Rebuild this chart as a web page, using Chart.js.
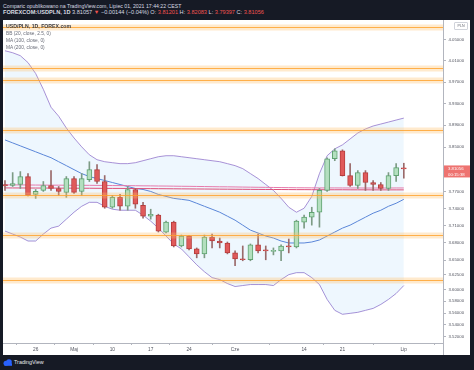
<!DOCTYPE html>
<html>
<head>
<meta charset="utf-8">
<script src="https://cdn.jsdelivr.net/npm/chart.js@4/dist/chart.umd.min.js"></script>
<style>
html,body{margin:0;padding:0;width:474px;height:370px;overflow:hidden;background:#161a25;font-family:"Liberation Sans",Arial,sans-serif}
.hdr{position:absolute;left:3px;color:#d8dbe2;font-size:5.2px;white-space:nowrap;line-height:6px}
.hdr .r{color:#ef5350}
#panel{position:absolute;left:3px;top:20px;width:467px;height:335px;background:#fff}
#c{position:absolute;left:0;top:0}
#legend{position:absolute;left:3px;top:3px;font-size:4.8px;line-height:7.1px;color:#6a6d78;white-space:nowrap}
#legend b{color:#3b3d45;font-size:5.2px}
#pln{position:absolute;left:451px;top:2px;width:12px;height:6px;border:1px solid #d0d3da;border-radius:1px;font-size:3.6px;line-height:6px;text-align:center;color:#60636d}
#tv{position:absolute;left:3px;top:358px;color:#e6e8ee;font-size:5.4px;line-height:8px;white-space:nowrap}
#tv svg{vertical-align:middle;margin-right:1px}
</style>
</head>
<body>
<div class="hdr" style="top:2.5px">Comparic opublikowano na TradingView.com, Lipiec 01, 2021 17:44:22 CEST</div>
<div class="hdr" style="top:9px;font-size:5.6px"><b>FOREXCOM:USDPLN, 1D</b> 3.81057 <span class="r">▼</span> −0.00144 (−0.04%) O: <span class="r">3.81201</span> H: <span class="r">3.82083</span> L: <span class="r">3.79397</span> C: <span class="r">3.81056</span></div>
<div id="panel">
  <canvas id="c" width="467" height="335"></canvas>
  <div id="legend"><b>USD/PLN, 1D, FOREX.com</b><br>BB (20, close, 2.5, 0)<br>MA (100, close, 0)<br>MA (200, close, 0)</div>
  <div id="pln">PLN</div>
</div>
<div id="tv"><svg width="10" height="7" viewBox="0 0 10 7"><circle cx="3" cy="4.3" r="2.5" fill="#2962ff"/><circle cx="6" cy="3" r="2.8" fill="#2962ff"/><rect x="1.5" y="4.3" width="7.5" height="2.5" fill="#2962ff"/></svg>TradingView</div>
<script>
const dates = ["04-20","04-21","04-22","04-23","04-26","04-27","04-28","04-29","04-30",
  "05-03","05-04","05-05","05-06","05-07","05-10","05-11","05-12","05-13","05-14","05-17","05-18","05-19","05-20","05-21","05-24","05-25","05-26","05-27","05-28","05-31",
  "06-01","06-02","06-03","06-04","06-07","06-08","06-09","06-10","06-11","06-14","06-15","06-16","06-17","06-18","06-21","06-22","06-23","06-24","06-25","06-28","06-29","06-30",
  "07-01"];

const opens  = [3.7827,3.7809,3.7827,3.7969,3.7650,3.7721,3.7809,3.7756,3.7686,3.7933,3.7703,3.7915,3.8093,3.7880,3.7423,3.7598,3.7440,3.7738,3.7458,3.7265,3.7283,3.6987,3.7160,3.6745,3.6918,3.6694,3.6608,3.6900,3.6831,3.6797,3.6625,3.6523,3.6506,3.6763,3.6677,3.6651,3.6660,3.6745,3.6728,3.7160,3.7248,3.7335,3.7721,3.8290,3.8433,3.7987,3.7809,3.8040,3.7862,3.7827,3.7756,3.7987,3.81201];
const highs  = [3.7898,3.8040,3.8058,3.8022,3.7738,3.7880,3.8076,3.7791,3.7969,3.7969,3.8022,3.8236,3.8183,3.7987,3.7633,3.7650,3.7791,3.7756,3.7510,3.7388,3.7300,3.7178,3.7178,3.6935,3.6926,3.6711,3.6935,3.6952,3.6883,3.6814,3.6660,3.6745,3.6780,3.6952,3.6745,3.6711,3.6763,3.6866,3.7195,3.7283,3.7423,3.7756,3.8308,3.8469,3.8451,3.8201,3.8076,3.8076,3.7898,3.7862,3.8040,3.8201,3.82083];
const lows   = [3.7721,3.7791,3.7756,3.7624,3.7580,3.7703,3.7721,3.7633,3.7598,3.7668,3.7633,3.7880,3.7844,3.7405,3.7405,3.7370,3.7370,3.7405,3.7230,3.7213,3.6987,3.6970,3.6728,3.6728,3.6677,3.6540,3.6540,3.6711,3.6711,3.6608,3.6403,3.6489,3.6489,3.6625,3.6506,3.6591,3.6489,3.6625,3.6711,3.7056,3.7108,3.7073,3.7703,3.8254,3.7978,3.7791,3.7756,3.7721,3.7721,3.7721,3.7721,3.7880,3.79397];
const closes = [3.7801,3.7844,3.7969,3.7633,3.7703,3.7809,3.7756,3.7703,3.7933,3.7686,3.7933,3.8093,3.7880,3.7423,3.7598,3.7440,3.7738,3.7475,3.7265,3.7300,3.7004,3.7160,3.6745,3.6918,3.6694,3.6608,3.6900,3.6831,3.6797,3.6625,3.6523,3.6506,3.6763,3.6660,3.6660,3.6668,3.6745,3.6728,3.7178,3.7248,3.7335,3.7721,3.8290,3.8433,3.7987,3.7809,3.8040,3.7862,3.7827,3.7756,3.7987,3.8129,3.81056];

const bbUpper = [4.0292,4.0254,4.0198,4.0067,3.9861,3.9564,3.9232,3.9066,3.8849,3.8667,3.8505,3.8361,3.8272,3.8236,3.8218,3.8201,3.8201,3.8218,3.8254,3.8290,3.8326,3.8344,3.8344,3.8326,3.8308,3.8290,3.8272,3.8254,3.8236,3.8201,3.8165,3.8111,3.8022,3.7933,3.7827,3.7721,3.7580,3.7423,3.7335,3.7405,3.7615,3.8022,3.8344,3.8469,3.8541,3.8649,3.8758,3.8831,3.8886,3.8922,3.8958,3.8995,3.9031];
const bbBasis = [3.8631,3.8577,3.8523,3.8469,3.8415,3.8361,3.8308,3.8236,3.8165,3.8093,3.8022,3.7969,3.7933,3.7898,3.7862,3.7827,3.7791,3.7756,3.7738,3.7703,3.7650,3.7615,3.7580,3.7563,3.7545,3.7493,3.7440,3.7388,3.7335,3.7265,3.7195,3.7108,3.7021,3.6970,3.6918,3.6883,3.6831,3.6797,3.6797,3.6797,3.6814,3.6849,3.6918,3.6987,3.7056,3.7108,3.7178,3.7248,3.7318,3.7370,3.7440,3.7493,3.7563];
const bbLower = [3.7004,3.6952,3.6900,3.6831,3.6831,3.6952,3.7056,3.7091,3.7213,3.7335,3.7440,3.7510,3.7510,3.7440,3.7388,3.7370,3.7370,3.7370,3.7283,3.7178,3.7056,3.6918,3.6780,3.6694,3.6557,3.6420,3.6301,3.6200,3.6166,3.6099,3.6048,3.6065,3.6082,3.6082,3.6082,3.6065,3.6166,3.6251,3.6285,3.6285,3.6200,3.6082,3.5830,3.5645,3.5579,3.5595,3.5612,3.5645,3.5678,3.5745,3.5830,3.5930,3.6065];
const ma100 = [3.7820,3.7819,3.7819,3.7818,3.7817,3.7816,3.7815,3.7815,3.7814,3.7813,3.7812,3.7812,3.7811,3.7810,3.7808,3.7807,3.7806,3.7805,3.7803,3.7802,3.7800,3.7799,3.7797,3.7795,3.7794,3.7792,3.7790,3.7788,3.7786,3.7785,3.7783,3.7781,3.7779,3.7777,3.7776,3.7774,3.7772,3.7771,3.7769,3.7768,3.7767,3.7766,3.7766,3.7766,3.7765,3.7765,3.7765,3.7764,3.7764,3.7764,3.7764,3.7765,3.7765];
const ma200 = [3.7766,3.7765,3.7765,3.7764,3.7764,3.7763,3.7763,3.7762,3.7762,3.7761,3.7760,3.7760,3.7759,3.7758,3.7757,3.7757,3.7756,3.7755,3.7754,3.7753,3.7752,3.7751,3.7750,3.7749,3.7748,3.7747,3.7746,3.7745,3.7744,3.7743,3.7742,3.7741,3.7740,3.7739,3.7738,3.7738,3.7737,3.7736,3.7735,3.7735,3.7734,3.7734,3.7733,3.7733,3.7733,3.7732,3.7732,3.7732,3.7731,3.7731,3.7731,3.7731,3.7731];

// horizontal levels drawn on the chart
const levels = [4.0747, 3.9964, 3.9740, 3.8812, 3.7633, 3.6935, 3.6166];

const yTicks = [3.52,3.54,3.56,3.58,3.60,3.625,3.65,3.68,3.71,3.74,3.77,3.85,3.89,3.93,3.97,4.01,4.05];
const xTickDates  = ["04-26","05-03","05-10","05-17","05-24","06-01","06-14","06-21","07-01"];
const xTickLabels = ["26","Maj","10","17","24","Cze","14","21","Lip"];
const countdown = "00:15:38";

const UP = "#b3dfbf", UP_BORDER = "#5fa271";
const DN = "#e05a5a", DN_BORDER = "#b53d3d";
const isUp = closes.map((c, i) => c >= opens[i]);
const pts = arr => arr.map((v, i) => ({x: i, y: v}));

const overlay = {
  id: "overlay",
  afterDatasetsDraw(chart) {
    const {ctx, chartArea: a, scales: {y}} = chart;
    ctx.save();
    levels.forEach(v => {
      const py = Math.round(y.getPixelForValue(v)) + 0.5;
      ctx.fillStyle = "rgba(255,190,100,0.32)";
      ctx.fillRect(a.left, py - 3, a.right - a.left, 6);
      ctx.strokeStyle = "rgba(255,160,40,0.8)";
      ctx.lineWidth = 1;
      ctx.beginPath(); ctx.moveTo(a.left, py); ctx.lineTo(a.right, py); ctx.stroke();
    });
    ctx.restore();
  },
  afterDraw(chart) {
    const {ctx, chartArea: a, scales: {y}} = chart;
    ctx.save();
    ctx.strokeStyle = "#b2b5be";
    ctx.lineWidth = 1;
    ctx.beginPath(); ctx.moveTo(a.right + 0.5, a.bottom); ctx.lineTo(a.right + 0.5, chart.height); ctx.stroke();
    const last = closes[closes.length - 1];
    const py = y.getPixelForValue(last);
    ctx.fillStyle = "#ee7370";
    ctx.fillRect(a.right + 1, py - 3.5, chart.width - a.right - 1, 12);
    ctx.fillStyle = "#fff";
    ctx.font = "4.3px 'Liberation Sans', Arial";
    ctx.textBaseline = "middle";
    ctx.fillText(last.toFixed(5), a.right + 5, py);
    ctx.fillText(countdown, a.right + 5, py + 5.5);
    ctx.restore();
  }
};

new Chart(document.getElementById("c"), {
  type: "bar",
  data: {
    datasets: [
      { type: "bar", data: dates.map((d, i) => ({x: i, y: [opens[i], closes[i]]})),
        backgroundColor: isUp.map(u => u ? UP : DN), borderColor: isUp.map(u => u ? UP_BORDER : DN_BORDER),
        borderWidth: 1, borderSkipped: false, barThickness: 5, minBarLength: 1, grouped: false, order: 0 },
      { type: "bar", data: dates.map((d, i) => ({x: i, y: [lows[i], highs[i]]})),
        backgroundColor: isUp.map(u => u ? "#7d9b85" : "#9a6a6a"), barThickness: 1, grouped: false, order: 1 },
      { type: "line", data: pts(ma100), borderColor: "#e67aac", borderWidth: 1, pointRadius: 0, order: 3 },
      { type: "line", data: pts(ma200), borderColor: "#dd4f78", borderWidth: 1, pointRadius: 0, order: 3 },
      { type: "line", data: pts(bbBasis), borderColor: "#5a86d8", borderWidth: 1, pointRadius: 0, order: 4 },
      { type: "line", data: pts(bbUpper), borderColor: "rgba(140,110,200,0.75)", borderWidth: 1, pointRadius: 0,
        fill: "+1", backgroundColor: "rgba(33,150,243,0.075)", order: 5 },
      { type: "line", data: pts(bbLower), borderColor: "rgba(140,110,200,0.75)", borderWidth: 1, pointRadius: 0, order: 5 }
    ]
  },
  options: {
    responsive: false,
    devicePixelRatio: 1,
    animation: false,
    layout: { padding: 0 },
    plugins: { legend: { display: false }, tooltip: { enabled: false } },
    scales: {
      x: {
        type: "linear", min: -0.26, max: 57.11, offset: false,
        grid: { display: true, drawOnChartArea: false, drawTicks: true, tickLength: 2, color: "#b2b5be" },
        border: { display: true, color: "#b2b5be" },
        afterBuildTicks: s => { s.ticks = xTickDates.map(d => ({value: dates.indexOf(d)})); },
        afterFit: s => { s.height = 12; s.paddingLeft = 0; s.paddingRight = 0; },
        ticks: { autoSkip: false, maxRotation: 0, padding: 1.5, color: "#50535e",
          font: { size: 4.8, family: "'Liberation Sans', Arial" },
          callback: (v, i) => xTickLabels[i] }
      },
      y: {
        type: "logarithmic", position: "right", min: 3.5148, max: 4.0881,
        grid: { display: true, drawOnChartArea: false, drawTicks: true, tickLength: 3, color: "#b2b5be" },
        border: { display: true, color: "#b2b5be" },
        afterBuildTicks: s => { s.ticks = yTicks.map(v => ({value: v})); },
        afterFit: s => { s.width = 27; s.paddingTop = 0; s.paddingBottom = 0; },
        ticks: { autoSkip: false, padding: 2.5, color: "#50535e",
          font: { size: 4.3, family: "'Liberation Sans', Arial" },
          callback: v => Number(v).toFixed(5) }
      }
    }
  },
  plugins: [overlay]
});
</script>
</body>
</html>
